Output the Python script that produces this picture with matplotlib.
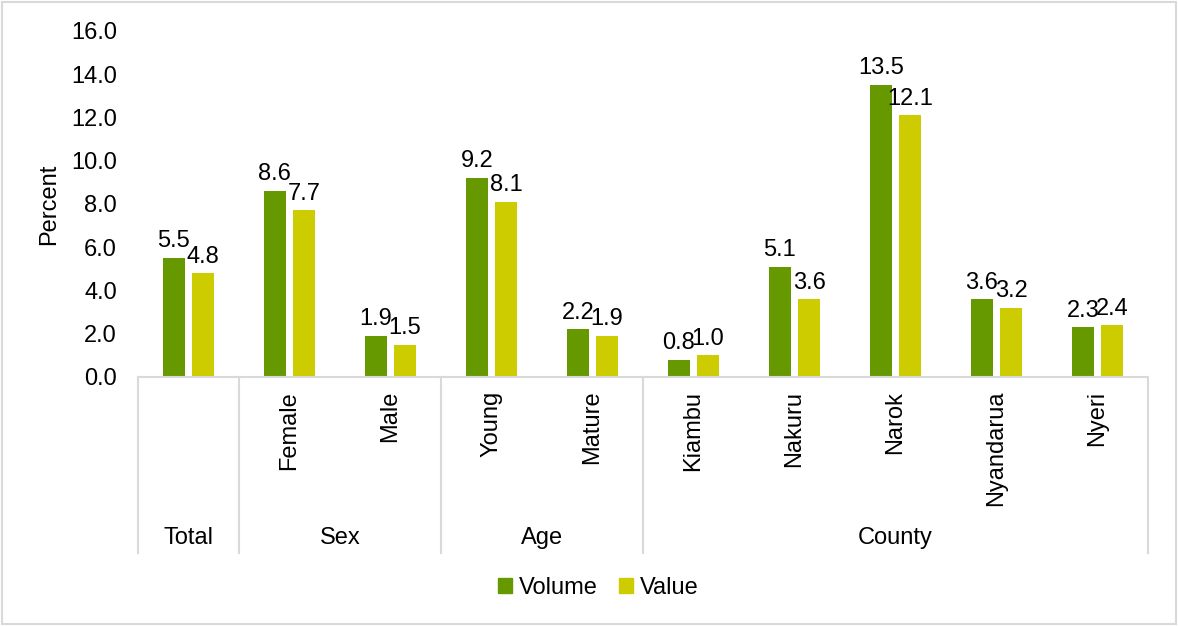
import matplotlib.pyplot as plt
import numpy as np
from matplotlib.patches import Patch, Rectangle

plt.rcParams['font.family'] = ['Liberation Sans', 'DejaVu Sans']

# survey shares by group
categories = ["", "Female", "Male", "Young", "Mature",
              "Kiambu", "Nakuru", "Narok", "Nyandarua", "Nyeri"]
groups = ["Total", "Sex", "Age", "County"]
group_sizes = [1, 2, 2, 5]
volume = [5.5, 8.6, 1.9, 9.2, 2.2, 0.8, 5.1, 13.5, 3.6, 2.3]
value = [4.8, 7.7, 1.5, 8.1, 1.9, 1.0, 3.6, 12.1, 3.2, 2.4]

green = "#669900"
yellow = "#CCCC00"
grey = "#D9D9D9"
fs = 17

fig = plt.figure(figsize=(11.78, 6.26), dpi=100)
ax = fig.add_axes([0.1171, 0.3978, 0.8574, 0.5527])

x = np.arange(len(categories))
w = 0.22
off = 0.145
b1 = ax.bar(x - off, volume, w, color=green)
b2 = ax.bar(x + off, value, w, color=yellow)
for bars, vals in ((b1, volume), (b2, value)):
    for rect, v in zip(bars, vals):
        ax.annotate(f"{v:.1f}", (rect.get_x() + rect.get_width() / 2, v),
                    xytext=(0, 4), textcoords="offset points",
                    ha="center", va="bottom", fontsize=fs)

ax.set_xlim(-0.5, len(categories) - 0.5)
ax.set_ylim(0, 16)
ax.set_yticks(np.arange(0, 16.1, 2))
ax.set_yticklabels([f"{t:.1f}" for t in np.arange(0, 16.1, 2)], fontsize=fs)
ax.tick_params(axis="y", length=0, pad=15)
ax.set_xticks([])
ax.set_ylabel("Percent", fontsize=fs, labelpad=8)
for s in ("left", "right", "top"):
    ax.spines[s].set_visible(False)
ax.spines["bottom"].set_color(grey)
ax.spines["bottom"].set_linewidth(1.5)

# two-level category axis
trans = ax.get_xaxis_transform()
for xi, name in zip(x, categories):
    ax.text(xi, -0.04, name, rotation=90, ha="center", va="top",
            fontsize=fs, transform=trans)
edges = np.concatenate([[0], np.cumsum(group_sizes)]) - 0.5
for e in edges:
    ax.plot([e, e], [0, -0.509], color=grey, lw=1.5, transform=trans,
            clip_on=False)
for g, lo, hi in zip(groups, edges[:-1], edges[1:]):
    ax.text((lo + hi) / 2, -0.465, g, ha="center", va="center",
            fontsize=fs, transform=trans)

handles = [Patch(color=green, label="Volume"), Patch(color=yellow, label="Value")]
fig.legend(handles=handles, loc="center", bbox_to_anchor=(0.508, 0.061),
           ncol=2, frameon=False, fontsize=fs, handlelength=0.6,
           handleheight=0.6, handletextpad=0.3, columnspacing=0.9)

fig.add_artist(Rectangle((0.002, 0.003), 0.996, 0.994, transform=fig.transFigure,
                         fill=False, edgecolor=grey, lw=1.5))

fig.savefig("out.png", dpi=100)
